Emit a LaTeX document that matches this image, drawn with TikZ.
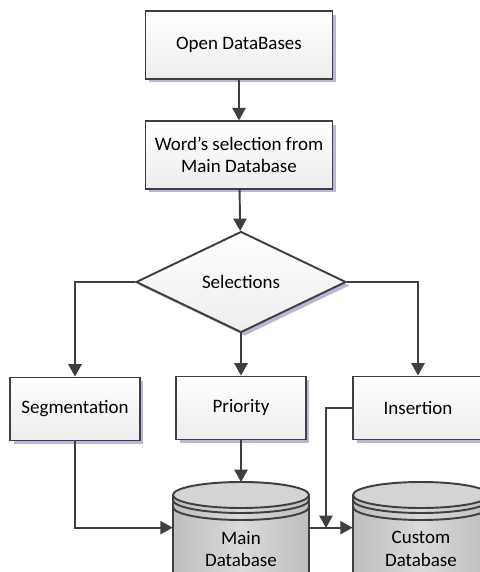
\documentclass[tikz,border=0pt]{standalone}
\usepackage{fontspec}
\setmainfont{Carlito}
\usepackage{tikz}
\usetikzlibrary{arrows.meta,positioning,shapes.geometric,shadows}
\definecolor{lineg}{HTML}{3F3F3F}
\definecolor{boxtop}{HTML}{FFFFFF}
\definecolor{boxbot}{HTML}{EDEDED}
\definecolor{shadowp}{HTML}{BDB4D6}
\definecolor{dbside}{HTML}{BEBEBE}
\definecolor{dbmid}{HTML}{DADADA}
\definecolor{dbtop}{HTML}{D4D4D4}
\tikzset{
  txt/.style={font=\fontsize{10.8}{12.8}\selectfont,text=black,align=center},
  stepbox/.style={txt,rectangle,draw=lineg,line width=1.1pt,top color=boxtop,bottom color=boxbot,
    drop shadow={shadow xshift=0.07cm,shadow yshift=-0.07cm,fill=shadowp,opacity=1},inner sep=2pt},
  bigbox/.style={stepbox,minimum width=3.74cm,minimum height=1.35cm},
  smallbox/.style={stepbox,minimum width=2.6cm,minimum height=1.26cm},
  choice/.style={txt,diamond,aspect=2,draw=lineg,line width=1.1pt,top color=boxtop,bottom color=boxbot,
    drop shadow={shadow xshift=0.07cm,shadow yshift=-0.07cm,fill=shadowp,opacity=1},
    minimum width=4.2cm,minimum height=2.02cm,inner sep=0pt},
  dbtext/.style={txt,inner sep=0pt,minimum width=2.72cm,minimum height=0.84cm},
  dbline/.style={draw=lineg,line width=1.1pt},
  link/.style={lineg,line width=1.1pt,-{Triangle[length=7pt,width=7.5pt]}},
  plain/.style={lineg,line width=1.1pt},
  dbcyl/.pic={
    \path[left color=dbside,right color=dbside,middle color=dbmid]
      (-68,0) -- (-68,-110) arc[start angle=180,end angle=360,x radius=68,y radius=13] -- (68,0) -- cycle;
    \draw[dbline] (-68,0) -- (-68,-110) arc[start angle=180,end angle=360,x radius=68,y radius=13] -- (68,0);
    \draw[dbline,fill=dbtop] (0,0) ellipse[x radius=68,y radius=13];
    \draw[dbline] (-68,-5) arc[start angle=180,end angle=360,x radius=68,y radius=13];
    \draw[dbline] (-68,-12) arc[start angle=180,end angle=360,x radius=68,y radius=13];
  },
}
\begin{document}
\begin{tikzpicture}[x=0.02cm,y=0.02cm]
  \useasboundingbox (0,0) rectangle (480,572);
  \clip (0,0) rectangle (480,572);
  \node[bigbox] (open) at (239,527) {Open DataBases};
  \node[bigbox] (word) at (239,417) {Word’s selection from\\Main Database};
  \node[choice] (sel) at (241,290) {Selections};
  \node[smallbox] (seg) at (75,163) {Segmentation};
  \node[smallbox] (prio) at (241,164) {Priority};
  \node[smallbox] (ins) at (418,164) {Insertion};
  \pic at (241,77) {dbcyl};
  \pic at (421,77) {dbcyl};
  \node[dbtext] (maindb) at (241,23) {Main\\Database};
  \node[dbtext] (custdb) at (421,23) {Custom\\Database};
  \coordinate (maintop) at (241,90);
  \coordinate (join) at (326,44);
  \draw[link] (open) -- (word);
  \draw[link] (word) -- (sel);
  \draw[link] (sel.west) -| (seg.north);
  \draw[link] (sel.south) -- (prio.north);
  \draw[link] (sel.east) -| (ins.north);
  \draw[link] (prio.south) -- (maintop);
  \draw[link] (seg.south) |- (maindb.north west);
  \draw[link] (maindb.north east) -- (custdb.north west);
  \draw[link] (ins.west) -| (join);
\end{tikzpicture}
\end{document}
